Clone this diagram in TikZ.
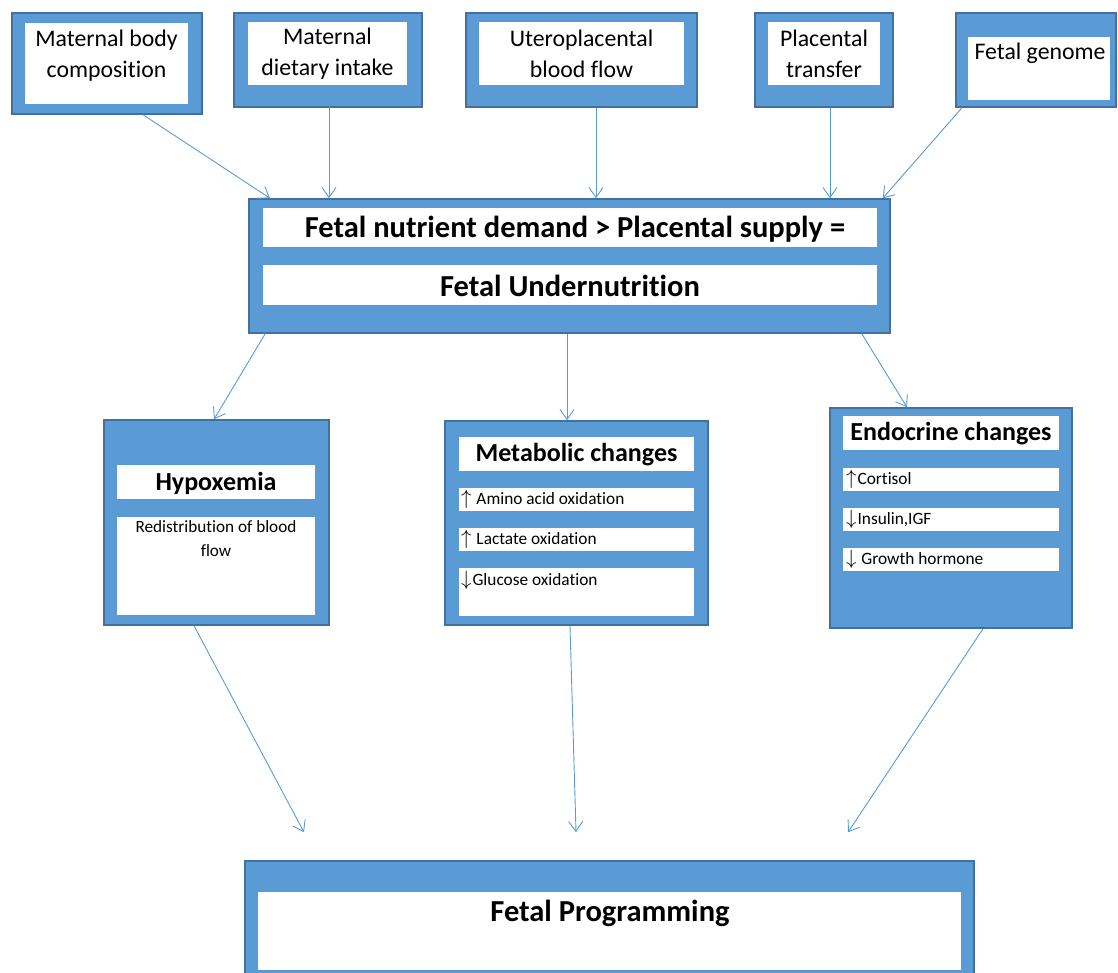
\documentclass[tikz,border=0pt]{standalone}
\usepackage{fontspec}
\setmainfont[Ligatures=NoCommon]{Carlito}
\usetikzlibrary{arrows.meta,calc}
\definecolor{boxc}{HTML}{5B9BD5}
\definecolor{bordc}{HTML}{41719C}
\definecolor{arrc}{HTML}{5B9BD5}
\newcommand{\upar}{{\fontsize{19.5}{20}\selectfont$\uparrow$}\kern1pt}
\newcommand{\dnar}{{\fontsize{19.5}{20}\selectfont$\downarrow$}\kern1pt}
\tikzset{
  outerbox/.style={rectangle, draw=bordc, fill=boxc, line width=1.5pt, inner sep=0pt},
  whitebox/.style={rectangle, fill=white, draw=none, inner sep=0pt},
  conn/.style={draw=arrc, line width=0.9pt, -{Straight Barb[length=10pt,width=14pt,line width=0.9pt]}},
  toptxt/.style={inner sep=0pt, align=center, font=\fontsize{23.8}{31}\selectfont},
  bigtxt/.style={inner sep=0pt, font=\fontsize{30.5}{34}\selectfont\bfseries},
  midtxt/.style={inner sep=0pt, font=\fontsize{26}{30}\selectfont\bfseries},
  smalltxt/.style={inner sep=0pt, align=center, font=\fontsize{17.2}{24}\selectfont},
  itemtxt/.style={inner sep=0pt, anchor=west, font=\fontsize{17.3}{20}\selectfont},
}
\begin{document}
\begin{tikzpicture}[x=1pt,y=-1pt]
\useasboundingbox (0,0) rectangle (1118,973);
% top boxes
\node[outerbox, minimum width=190pt, minimum height=101pt] (mbc) at (107,63.5) {};
\node[whitebox, minimum width=163pt, minimum height=81pt] (mbcw) at (106.5,63.5) {};
\node[toptxt] (mbct) at (106.5,56) {Maternal body\\composition};

\node[outerbox, minimum width=188pt, minimum height=94pt] (mdi) at (328,60) {};
\node[whitebox, minimum width=159pt, minimum height=63pt] (mdiw) at (327.5,53.5) {};
\node[toptxt] (mdit) at (327.5,54) {Maternal\\dietary intake};

\node[outerbox, minimum width=231pt, minimum height=94pt] (ubf) at (581.5,60) {};
\node[whitebox, minimum width=205pt, minimum height=63pt] (ubfw) at (581.5,53.5) {};
\node[toptxt] (ubft) at (581.5,54) {Uteroplacental\\blood flow};

\node[outerbox, minimum width=138pt, minimum height=94pt] (pt) at (824,60) {};
\node[whitebox, minimum width=112pt, minimum height=63pt] (ptw) at (824,53.5) {};
\node[toptxt] (ptt) at (824,54) {Placental\\transfer};

\node[outerbox, minimum width=160pt, minimum height=94pt] (fg) at (1036,60) {};
\node[whitebox, minimum width=142pt, minimum height=63pt] (fgw) at (1039,68.5) {};
\node[toptxt] (fgt) at (1040,53) {Fetal genome};

% central box
\node[outerbox, minimum width=641pt, minimum height=134pt] (fnd) at (569.5,266) {};
\node[whitebox, minimum width=614pt, minimum height=39pt] (fndw1) at (570,227.5) {};
\node[whitebox, minimum width=614pt, minimum height=40pt] (fndw2) at (570,285) {};
\node[bigtxt] (fndt1) at (575,229) {Fetal nutrient demand > Placental supply =};
\node[bigtxt] (fndt2) at (570,286) {Fetal Undernutrition};

% hypoxemia
\node[outerbox, minimum width=225pt, minimum height=205pt] (hyp) at (216.5,522.5) {};
\node[whitebox, minimum width=198pt, minimum height=34pt] (hypw1) at (216,482) {};
\node[whitebox, minimum width=198pt, minimum height=98pt] (hypw2) at (216,566) {};
\node[midtxt] (hypt) at (216,483) {Hypoxemia};
\node[smalltxt] (hypr) at (216,539) {Redistribution of blood\\flow};

% metabolic
\node[outerbox, minimum width=263pt, minimum height=204pt] (met) at (576.5,523) {};
\node[whitebox, minimum width=235pt, minimum height=34pt] (metw0) at (576.5,454) {};
\node[whitebox, minimum width=235pt, minimum height=23pt] (metw1) at (576.5,499.5) {};
\node[whitebox, minimum width=235pt, minimum height=23pt] (metw2) at (576.5,539.5) {};
\node[whitebox, minimum width=235pt, minimum height=48pt] (metw3) at (576.5,592) {};
\node[midtxt] (mett) at (576.5,455) {Metabolic changes};
\node[itemtxt] (met1) at (461,499.5) {\upar\ Amino acid oxidation};
\node[itemtxt] (met2) at (461,539.5) {\upar\ Lactate oxidation};
\node[itemtxt] (met3) at (461,580) {\dnar Glucose oxidation};

% endocrine
\node[outerbox, minimum width=242pt, minimum height=220pt] (endo) at (951,518) {};
\node[whitebox, minimum width=216pt, minimum height=34pt] (endow0) at (951,433) {};
\node[whitebox, minimum width=216pt, minimum height=23pt] (endow1) at (951,479.5) {};
\node[whitebox, minimum width=216pt, minimum height=23pt] (endow2) at (951,519.5) {};
\node[whitebox, minimum width=216pt, minimum height=23pt] (endow3) at (951,559.5) {};
\node[midtxt] (endot) at (951,434) {Endocrine changes};
\node[itemtxt] (endo1) at (846,479.5) {\upar Cortisol};
\node[itemtxt] (endo2) at (846,519.5) {\dnar Insulin,IGF};
\node[itemtxt] (endo3) at (846,559.5) {\dnar\ Growth hormone};

% fetal programming
\node[outerbox, minimum width=729pt, minimum height=130pt] (fp) at (609.5,926) {};
\node[whitebox, minimum width=703pt, minimum height=78pt] (fpw) at (609.5,931) {};
\node[bigtxt] (fpt) at (610,913) {Fetal Programming};

% free ends above fetal programming
\coordinate (e1) at ([xshift=-305.5pt,yshift=28pt]fp.north);
\coordinate (e2) at ([xshift=-33.5pt,yshift=28pt]fp.north);
\coordinate (e3) at ([xshift=238.5pt,yshift=28pt]fp.north);

% connectors
\draw[conn] ([xshift=36pt]mbc.south) -- ([xshift=-299.5pt]fnd.north);
\draw[conn] ([xshift=1.5pt]mdiw.south) -- ([xshift=-240.5pt]fnd.north);
\draw[conn] ([xshift=14.5pt]ubf.south) -- ([xshift=26.5pt]fnd.north);
\draw[conn] ([xshift=6pt]pt.south) -- ([xshift=260.5pt]fnd.north);
\draw[conn] ([xshift=-74pt]fg.south) -- ([xshift=-8pt]fnd.north east);
\draw[conn] ([xshift=17pt]fnd.south west) -- ([xshift=-2.5pt]hyp.north);
\draw[conn] ([xshift=-2.5pt]fnd.south) -- ([xshift=-9.5pt]met.north);
\draw[conn] ([xshift=-29pt]fnd.south east) -- ([xshift=-44pt]endo.north);
\draw[conn] ([xshift=-22.5pt]hyp.south) -- (e1);
\draw[conn] ([xshift=-6.5pt]met.south) -- (e2);
\draw[conn] ([xshift=32pt]endo.south) -- (e3);
\end{tikzpicture}
\end{document}
